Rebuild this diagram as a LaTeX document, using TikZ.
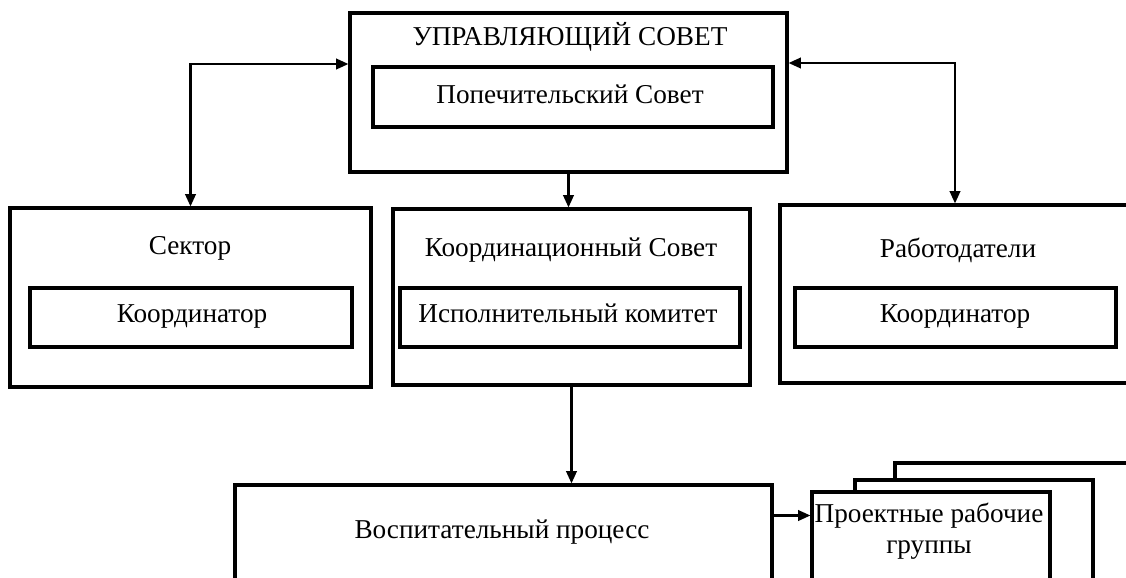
\documentclass[tikz,border=0pt]{standalone}
\usepackage{fontspec}
\setmainfont{Liberation Serif}
\usetikzlibrary{arrows.meta,fit}

\begin{document}
\begin{tikzpicture}[x=0.02cm,y=-0.02cm,
    box/.style={draw,line width=1.8pt,inner sep=0pt,fill=white},
    txt/.style={font=\fontsize{15.5}{18}\selectfont,inner sep=0pt},
    conn/.style={line width=1.2pt,-{Triangle[length=7pt,width=6pt]}},
    biconn/.style={line width=1.2pt,{Triangle[length=7pt,width=6pt]}-{Triangle[length=7pt,width=6pt]}}]
    \useasboundingbox (0,0) rectangle (1126,578);
    \clip (0,0) rectangle (1126,578);
    % outer and inner boxes
    \foreach \nm/\xa/\ya/\xb/\yb in {upr/350/13/787/172, pop/373/67/773/127,
        sec/10/208/371/387, seck/30/288/352/347,
        kor/393/209/750/385, isp/400/288/740/347,
        rab/780/205/1130/383, rabk/795/288/1116/347,
        vosp/235/485/772/620}
        \node[box,fit={(\xa,\ya) (\xb,\yb)}] (\nm) {};
    % stacked working groups, back to front
    \foreach \nm/\xa/\ya/\xb in {grp3/895/463/1140, grp2/855/480/1093, grp1/812/492/1050}
        \node[box,fit={(\xa,\ya) (\xb,620)}] (\nm) {};
    % labels
    \foreach \nm/\x/\y/\t in {uprt/570/37/УПРАВЛЯЮЩИЙ СОВЕТ, popt/570/94/Попечительский Совет,
        sect/190/248/Сектор, seckt/192/316/Координатор,
        kort/571/250/Координационный Совет, ispt/568/313/Исполнительный комитет,
        rabt/958/250/Работодатели, rabkt/955/316/Координатор,
        vospt/502/532/Воспитательный процесс}
        \node[txt] (\nm) at (\x,\y) {\t};
    \node[txt,align=center] (grpt) at (929,531) {Проектные рабочие\\группы};
    % connectors
    \draw[biconn] ([yshift=0.57cm]upr.west) -| (sec.north);
    \draw[biconn] ([yshift=0.59cm]upr.east) -| (rab.north);
    \draw[conn] (upr.south) -- (upr.south |- kor.north);
    \draw[conn] (kor.south) -- (kor.south |- vosp.north);
    \draw[conn] ([yshift=0.74cm]vosp.east) -- ([yshift=0.74cm]vosp.east -| grp1.west);
\end{tikzpicture}
\end{document}
